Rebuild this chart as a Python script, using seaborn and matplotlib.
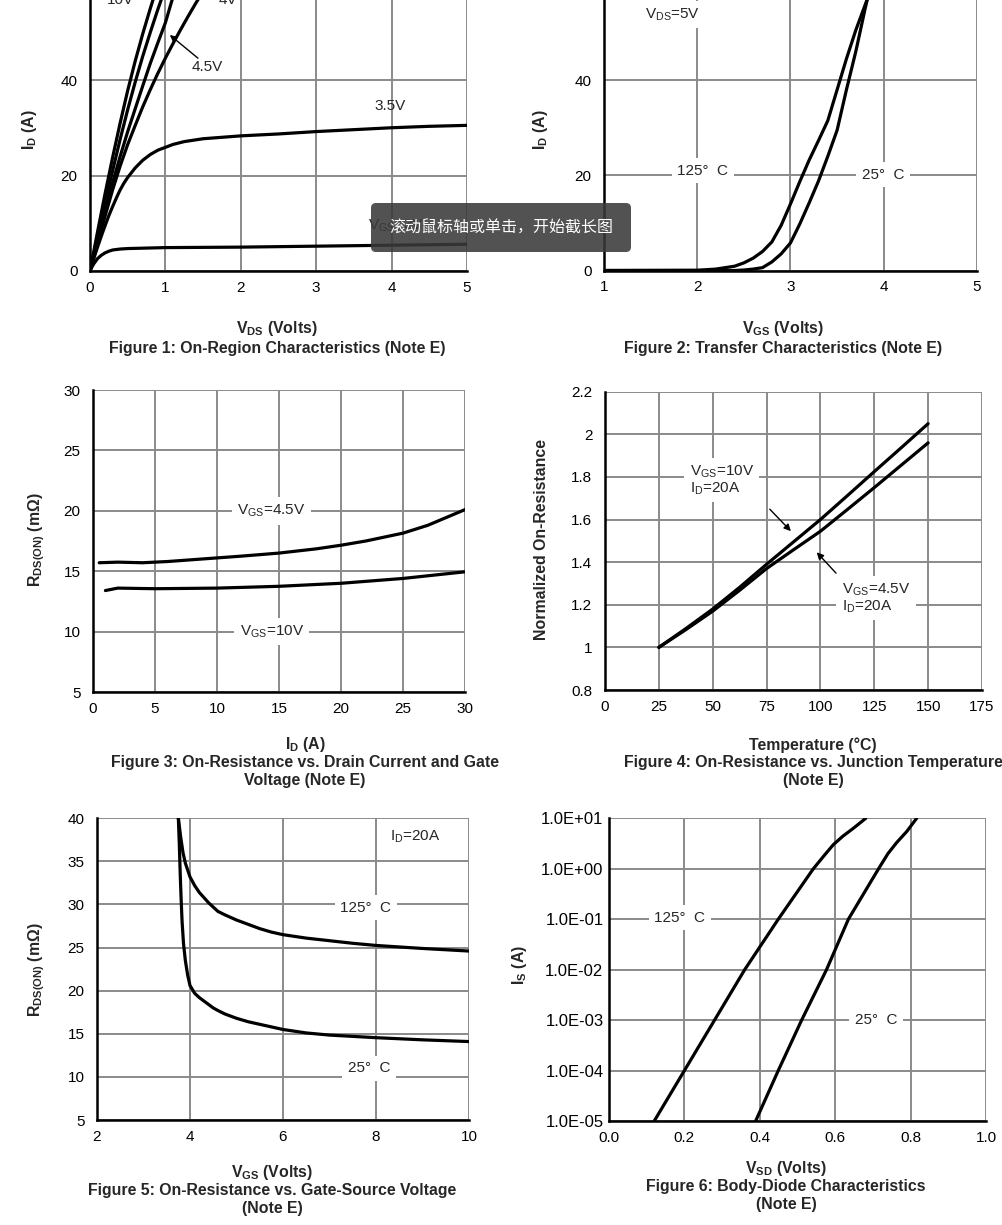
import numpy as np
import pandas as pd
import matplotlib
matplotlib.use("Agg")
import matplotlib.pyplot as plt
import seaborn as sns
from matplotlib.patches import FancyBboxPatch

# ===========================
# DATA
# ===========================
# Figure 1: On-region characteristics, I_D vs V_DS
f1_vds_10v = [0, 0.1, 0.2, 0.3, 0.4, 0.5, 0.6, 0.7, 0.8, 0.88]
f1_id_10v = [0, 8.2, 16.2, 23.8, 31, 37.8, 44, 49.7, 55, 59]
f1_vds_6v = [0, 0.1, 0.2, 0.3, 0.4, 0.5, 0.6, 0.7, 0.8, 0.9, 1.0]
f1_id_6v = [0, 7.2, 14.2, 21, 27.6, 33.8, 39.6, 45, 50, 54.8, 59.3]
f1_vds_45v = [0, 0.1, 0.2, 0.3, 0.4, 0.5, 0.6, 0.7, 0.8, 0.9, 1.0, 1.08, 1.15]
f1_id_45v = [0, 6.3, 12.5, 18.5, 24, 29.2, 34, 38.8, 43.5, 47.8, 52, 56.3, 59.8]
f1_vds_4v = [0, 0.1, 0.2, 0.3, 0.4, 0.5, 0.6, 0.7, 0.8, 0.9, 1.0, 1.1, 1.2, 1.3, 1.4, 1.5, 1.55]
f1_id_4v = [0, 5.8, 11.5, 17, 22, 26.5, 30.5, 34.4, 38, 41.4, 44.6, 47.6, 50.5, 53.3, 56, 58.6, 60]
f1_vds_35v = [0, 0.05, 0.1, 0.15, 0.2, 0.25, 0.3, 0.35, 0.4, 0.45, 0.5, 0.6, 0.7, 0.8, 0.9,
              1.0, 1.1, 1.25, 1.5, 1.75, 2, 2.5, 3, 3.5, 4, 4.5, 5]
f1_id_35v = [0, 2.6, 5, 7.3, 9.5, 11.6, 13.5, 15.3, 17, 18.4, 19.6, 21.6, 23.2, 24.4, 25.3,
             25.9, 26.5, 27.1, 27.7, 28.0, 28.3, 28.7, 29.2, 29.6, 30.0, 30.3, 30.5]
f1_vds_3v = [0, 0.025, 0.05, 0.1, 0.15, 0.2, 0.25, 0.3, 0.4, 0.5, 0.75, 1, 2, 3, 4, 5]
f1_id_3v = [0, 0.8, 1.5, 2.6, 3.3, 3.8, 4.15, 4.4, 4.6, 4.7, 4.8, 4.9, 5.0, 5.2, 5.4, 5.6]

# Figure 2: Transfer characteristics, I_D vs V_GS
f2_vgs_125 = [1, 2.0, 2.2, 2.4, 2.5, 2.6, 2.7, 2.8, 2.9, 3.0, 3.1, 3.2, 3.3, 3.4, 3.5, 3.6, 3.7, 3.8, 3.88]
f2_id_125 = [0, 0.05, 0.3, 0.9, 1.6, 2.6, 4.0, 6.0, 9.5, 14, 18.7, 23.2, 27.3, 31.5, 38, 44.5, 50.5, 55.8, 60]
f2_vgs_25 = [1, 2.4, 2.5, 2.6, 2.7, 2.8, 2.9, 3.0, 3.1, 3.2, 3.3, 3.4, 3.5, 3.6, 3.7, 3.8, 3.86]
f2_id_25 = [0, 0, 0.1, 0.3, 0.6, 1.8, 3.5, 5.8, 9.8, 14.2, 18.8, 24, 29.5, 38, 46, 55, 60]

# Figure 3: R_DS(ON) vs I_D
f3_id_45v = [0.5, 2, 4, 6, 8, 10, 12, 15, 18, 20, 22, 25, 27, 30]
f3_r_45v = [15.7, 15.75, 15.7, 15.8, 15.95, 16.1, 16.25, 16.5, 16.85, 17.15, 17.5, 18.15, 18.8, 20.1]
f3_id_10v = [1, 2, 5, 10, 15, 20, 25, 30]
f3_r_10v = [13.4, 13.6, 13.55, 13.6, 13.75, 14.0, 14.4, 14.95]

# Figure 4: normalized on-resistance vs temperature
f4_temp = [25, 37.5, 50, 62.5, 75, 87.5, 100, 112.5, 125, 137.5, 150]
f4_r_10v = [1.0, 1.088, 1.18, 1.282, 1.39, 1.495, 1.60, 1.712, 1.825, 1.937, 2.05]
f4_r_45v = [1.0, 1.083, 1.17, 1.268, 1.37, 1.458, 1.545, 1.647, 1.75, 1.855, 1.96]

# Figure 5: R_DS(ON) vs V_GS
f5_vgs_125 = [3.75, 3.8, 3.85, 3.9, 4.0, 4.1, 4.2, 4.3, 4.4, 4.5, 4.6, 4.75, 5.0, 5.25, 5.5,
              5.75, 6.0, 6.5, 7, 7.5, 8, 9, 10]
f5_r_125 = [40, 37.8, 36.0, 34.8, 33.2, 32.2, 31.4, 30.8, 30.2, 29.7, 29.2, 28.8, 28.2, 27.7, 27.2,
            26.8, 26.5, 26.1, 25.8, 25.5, 25.25, 24.9, 24.6]
f5_vgs_25 = [3.75, 3.77, 3.79, 3.81, 3.83, 3.86, 3.9, 3.95, 4.0, 4.1, 4.2, 4.3, 4.4, 4.5, 4.6,
             4.75, 5.0, 5.25, 5.5, 5.75, 6.0, 6.5, 7, 7.5, 8, 9, 10]
f5_r_25 = [40, 37, 33.5, 30.5, 28, 25.5, 23.5, 21.8, 20.6, 19.7, 19.2, 18.8, 18.4, 18.0, 17.7,
           17.3, 16.8, 16.4, 16.1, 15.8, 15.5, 15.1, 14.85, 14.7, 14.55, 14.3, 14.1]

# Figure 6: body diode, I_S vs V_SD
f6_vsd_125 = [0.12, 0.20, 0.28, 0.36, 0.449, 0.542, 0.57, 0.595, 0.62, 0.65, 0.681]
f6_is_125 = [1e-5, 1e-4, 1e-3, 1e-2, 1e-1, 1.0, 1.8, 3.0, 4.4, 6.5, 10]
f6_vsd_25 = [0.389, 0.449, 0.511, 0.577, 0.635, 0.715, 0.74, 0.763, 0.79, 0.816]
f6_is_25 = [1e-5, 1e-4, 1e-3, 1e-2, 1e-1, 1.0, 2.0, 3.3, 5.5, 10]

W, H = 1003, 1225
TICK_FS = 11
TEXT_FS = 11
BOLD_FS = 11.4

sns.set_style("white")
plt.rcParams['font.family'] = ['Liberation Sans', 'Noto Sans CJK SC', 'DejaVu Sans']
plt.rcParams['mathtext.fontset'] = 'custom'
plt.rcParams['mathtext.rm'] = 'Liberation Sans'
plt.rcParams['mathtext.bf'] = 'Liberation Sans:bold'
plt.rcParams['mathtext.it'] = 'Liberation Sans:italic'

fig = plt.figure(figsize=(W / 100, H / 100), dpi=100)


def px(x, y):
    return x / W, 1 - y / H


def make_axes(left, right, top, bottom):
    ax = fig.add_axes([left / W, 1 - bottom / H, (right - left) / W, (bottom - top) / H])
    ax.set_facecolor("white")
    for s in ["top", "right"]:
        ax.spines[s].set_visible(False)
    for s in ["left", "bottom"]:
        ax.spines[s].set_color("black")
        ax.spines[s].set_linewidth(1.8)
        ax.spines[s].set_zorder(4)
    ax.grid(True, color="#8a8a8a", linewidth=1.4)
    ax.set_axisbelow(True)
    ax.tick_params(length=0, labelsize=TICK_FS, colors="black")
    ax.tick_params(axis="x", pad=7)
    ax.tick_params(axis="y", pad=9)
    return ax


def curves(ax, pairs):
    rows = []
    for name, xs, ys in pairs:
        rows.append(pd.DataFrame({"x": xs, "y": ys, "curve": name}))
    df = pd.concat(rows, ignore_index=True)
    sns.lineplot(data=df, x="x", y="y", hue="curve", palette=["black"] * len(pairs),
                 estimator=None, sort=False, legend=False, linewidth=2.3, ax=ax)
    ax.set_xlabel("")
    ax.set_ylabel("")


def label(ax, x, y, s, box=True, **kw):
    bb = dict(facecolor="white", edgecolor="none", pad=4) if box else None
    ax.text(x, y, s, fontsize=TEXT_FS, ha=kw.pop("ha", "center"), va=kw.pop("va", "center"),
            bbox=bb, zorder=5, **kw)


def arrow(ax, tip, tail):
    ax.annotate("", xy=tip, xytext=tail,
                arrowprops=dict(arrowstyle="-|>", color="black", lw=1.0, mutation_scale=10))


def captions(lines, x, ys):
    for s, y in zip(lines, ys):
        fig.text(*px(x, y), s, ha="center", va="center", fontsize=BOLD_FS, fontweight="bold")


def ylab(s, x, y):
    fig.text(*px(x, y), s, ha="center", va="center", rotation=90, fontsize=BOLD_FS, fontweight="bold")


# ---------- Figure 1 ----------
ax1 = make_axes(90, 467, -15.5, 271)
curves(ax1, [("10V", f1_vds_10v, f1_id_10v), ("6V", f1_vds_6v, f1_id_6v),
             ("4.5V", f1_vds_45v, f1_id_45v), ("4V", f1_vds_4v, f1_id_4v),
             ("3.5V", f1_vds_35v, f1_id_35v), ("3V", f1_vds_3v, f1_id_3v)])
ax1.set_xlim(0, 5)
ax1.set_ylim(0, 60)
ax1.set_xticks(range(0, 6))
ax1.set_yticks([0, 20, 40, 60])
label(ax1, 0.40, 56.7, "10V", box=False)
label(ax1, 1.83, 56.7, "4V", box=False)
label(ax1, 1.55, 42.7, "4.5V", box=False)
arrow(ax1, (1.03, 49.8), (1.46, 44.2))
label(ax1, 3.98, 34.6, "3.5V", box=False)
label(ax1, 4.05, 9.4, r"V$_{\mathrm{GS}}$=3V", box=False)
ylab(r"$\mathbf{I_D}$ (A)", 30, 130)
captions([r"$\mathbf{V_{DS}}$ (Volts)", "Figure 1: On-Region Characteristics (Note E)"], 277, [329, 348])

# ---------- Figure 2 ----------
ax2 = make_axes(604, 977, -15, 270.5)
curves(ax2, [("125", f2_vgs_125, f2_id_125), ("25", f2_vgs_25, f2_id_25)])
ax2.set_xlim(1, 5)
ax2.set_ylim(0, 60)
ax2.set_xticks(range(1, 6))
ax2.set_yticks([0, 20, 40, 60])
label(ax2, 1.73, 53.8, r"V$_{\mathrm{DS}}$=5V")
label(ax2, 2.06, 21, "125°  C")
label(ax2, 3.99, 20.1, "25°  C")
ylab(r"$\mathbf{I_D}$ (A)", 540, 130)
captions([r"$\mathbf{V_{GS}}$ (Volts)", "Figure 2: Transfer Characteristics (Note E)"], 783, [329, 348])

# ---------- Figure 3 ----------
ax3 = make_axes(93, 465, 390, 692)
curves(ax3, [("4.5V", f3_id_45v, f3_r_45v), ("10V", f3_id_10v, f3_r_10v)])
ax3.set_xlim(0, 30)
ax3.set_ylim(5, 30)
ax3.set_xticks(range(0, 31, 5))
ax3.set_yticks(range(5, 31, 5))
label(ax3, 14.4, 20, r"V$_{\mathrm{GS}}$=4.5V")
label(ax3, 14.4, 10, r"V$_{\mathrm{GS}}$=10V")
ylab(r"$\mathbf{R_{DS(ON)}}$ (m$\mathbf{\Omega}$)", 37, 540)
captions([r"$\mathbf{I_D}$ (A)", "Figure 3: On-Resistance vs. Drain Current and Gate",
          "Voltage (Note E)"], 305, [745, 763, 781])

# ---------- Figure 4 ----------
ax4 = make_axes(605, 982, 391.7, 690)
curves(ax4, [("10V", f4_temp, f4_r_10v), ("4.5V", f4_temp, f4_r_45v)])
ax4.set_xlim(0, 175)
ax4.set_ylim(0.8, 2.2)
ax4.set_xticks(range(0, 176, 25))
yt4 = [0.8, 1.0, 1.2, 1.4, 1.6, 1.8, 2.0, 2.2]
ax4.set_yticks(yt4)
ax4.set_yticklabels([f"{v:g}" for v in yt4])
label(ax4, 39.4, 1.785, "V$_{\\mathrm{GS}}$=10V\nI$_{\\mathrm{D}}$=20A", ha="left", linespacing=1.0)
arrow(ax4, (87.2, 1.536), (75.6, 1.658))
label(ax4, 110, 1.23, "V$_{\\mathrm{GS}}$=4.5V\nI$_{\\mathrm{D}}$=20A", ha="left", linespacing=1.0)
arrow(ax4, (97.4, 1.456), (108.1, 1.339))
ylab("Normalized On-Resistance", 542, 540)
captions(["Temperature (°C)", "Figure 4: On-Resistance vs. Junction Temperature",
          "(Note E)"], 813, [745, 763, 781])

# ---------- Figure 5 ----------
ax5 = make_axes(97, 469, 818.3, 1120)
curves(ax5, [("125", f5_vgs_125, f5_r_125), ("25", f5_vgs_25, f5_r_25)])
ax5.set_xlim(2, 10)
ax5.set_ylim(5, 40)
ax5.set_xticks(range(2, 11, 2))
ax5.set_yticks(range(5, 41, 5))
label(ax5, 8.84, 37.9, r"I$_{\mathrm{D}}$=20A", box=False)
label(ax5, 7.78, 29.6, "125°  C")
label(ax5, 7.85, 11.0, "25°  C")
ylab(r"$\mathbf{R_{DS(ON)}}$ (m$\mathbf{\Omega}$)", 37, 970)
captions([r"$\mathbf{V_{GS}}$ (Volts)", "Figure 5: On-Resistance vs. Gate-Source Voltage",
          "(Note E)"], 272, [1172, 1191, 1208])

# ---------- Figure 6 ----------
ax6 = make_axes(609, 986, 818.3, 1121)
curves(ax6, [("125", f6_vsd_125, f6_is_125), ("25", f6_vsd_25, f6_is_25)])
ax6.set_yscale("log")
ax6.set_xlim(0, 1.0)
ax6.set_ylim(1e-5, 10)
xt6 = [0, 0.2, 0.4, 0.6, 0.8, 1.0]
ax6.set_xticks(xt6)
ax6.set_xticklabels([f"{v:.1f}" for v in xt6])
yt6 = [10.0 ** k for k in range(-5, 2)]
ax6.set_yticks(yt6)
ax6.set_yticklabels([f"{v:.1E}" for v in yt6], fontsize=12)
ax6.minorticks_off()
ax6.tick_params(axis="y", pad=4)
label(ax6, 0.188, 0.106, "125°  C")
label(ax6, 0.708, 1.0e-3, "25°  C")
ylab(r"$\mathbf{I_S}$ (A)", 520, 965)
captions([r"$\mathbf{V_{SD}}$ (Volts)", "Figure 6: Body-Diode Characteristics",
          "(Note E)"], 786, [1169, 1187, 1205])

# ---------- screenshot tooltip overlay ----------
tip = FancyBboxPatch((3.71, (H - 252) / 100), 2.60, 0.49,
                     boxstyle="round,pad=0,rounding_size=0.05",
                     transform=fig.dpi_scale_trans, facecolor="#3a3a3a", edgecolor="none",
                     alpha=0.88, zorder=10)
fig.add_artist(tip)
fig.text(*px(501, 228), "滚动鼠标轴或单击，开始截长图", ha="center", va="center",
         color="white", fontsize=11.5, family=["Noto Sans CJK SC", "DejaVu Sans"], zorder=11)

fig.savefig("out.png", dpi=100)
